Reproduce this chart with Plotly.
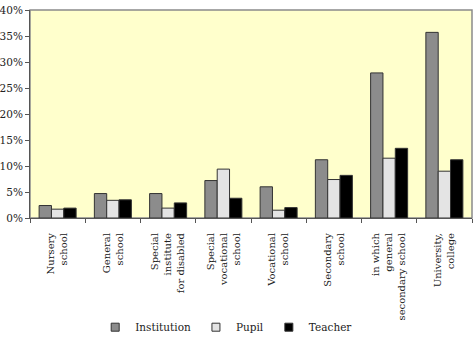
import plotly.graph_objects as go

categories = [
    "Nursery<br>school",
    "General<br>school",
    "Special<br>institute<br>for disabled",
    "Special<br>vocational<br>school",
    "Vocational<br>school",
    "Secondary<br>school",
    "in which<br>general<br>secondary school",
    "University,<br>college",
]
institution = [2.4, 4.7, 4.7, 7.2, 6.0, 11.2, 27.9, 35.7]
pupil = [1.7, 3.4, 1.9, 9.4, 1.5, 7.4, 11.5, 9.0]
teacher = [1.9, 3.5, 2.9, 3.8, 2.0, 8.2, 13.4, 11.2]

series = [("Institution", institution, "#8c8c8c"),
          ("Pupil", pupil, "#e4e4e4"),
          ("Teacher", teacher, "#000000")]

font_family = "DejaVu Serif"

fig = go.Figure()
for name, vals, col in series:
    fig.add_trace(go.Bar(
        name=name, x=categories, y=vals, showlegend=False,
        marker=dict(color=col, line=dict(color="#333333", width=1)),
    ))
# legend entries with small square symbols
for name, vals, col in series:
    fig.add_trace(go.Scatter(
        name=name, x=[None], y=[None], mode="markers",
        marker=dict(symbol="square", size=8, color=col,
                    line=dict(color="#333333", width=1)),
    ))

fig.update_layout(
    width=474, height=338,
    margin=dict(l=30, r=2, t=10, b=120, autoexpand=False),
    paper_bgcolor="white",
    plot_bgcolor="#ffffcc",
    barmode="group",
    bargap=0.33,
    bargroupgap=0,
    font=dict(family=font_family, size=10, color="#222222"),
    showlegend=True,
    legend=dict(orientation="h", x=0.445, xanchor="center", y=-0.525, yanchor="middle",
                font=dict(family=font_family, size=10.5), itemwidth=30,
                traceorder="normal", bgcolor="rgba(0,0,0,0)"),
    shapes=[dict(type="rect", xref="paper", yref="paper", x0=0, x1=1, y0=0, y1=1,
                 line=dict(color="#8a8a8a", width=1.5), layer="below")],
)

fig.update_xaxes(
    tickangle=-90, automargin=False, ticklabelstandoff=10,
    ticks="outside", tickson="boundaries", ticklen=4, tickcolor="#555555",
    showline=True, linecolor="#555555", linewidth=1,
    tickfont=dict(family=font_family, size=10),
    showgrid=False,
)
fig.update_yaxes(
    range=[0, 40], dtick=5, ticksuffix="%", automargin=False,
    ticks="outside", ticklen=4, tickcolor="#555555",
    showline=True, linecolor="#555555", linewidth=1,
    tickfont=dict(family=font_family, size=10.5),
    showgrid=False, zeroline=False,
)

fig.write_html("out.html")
